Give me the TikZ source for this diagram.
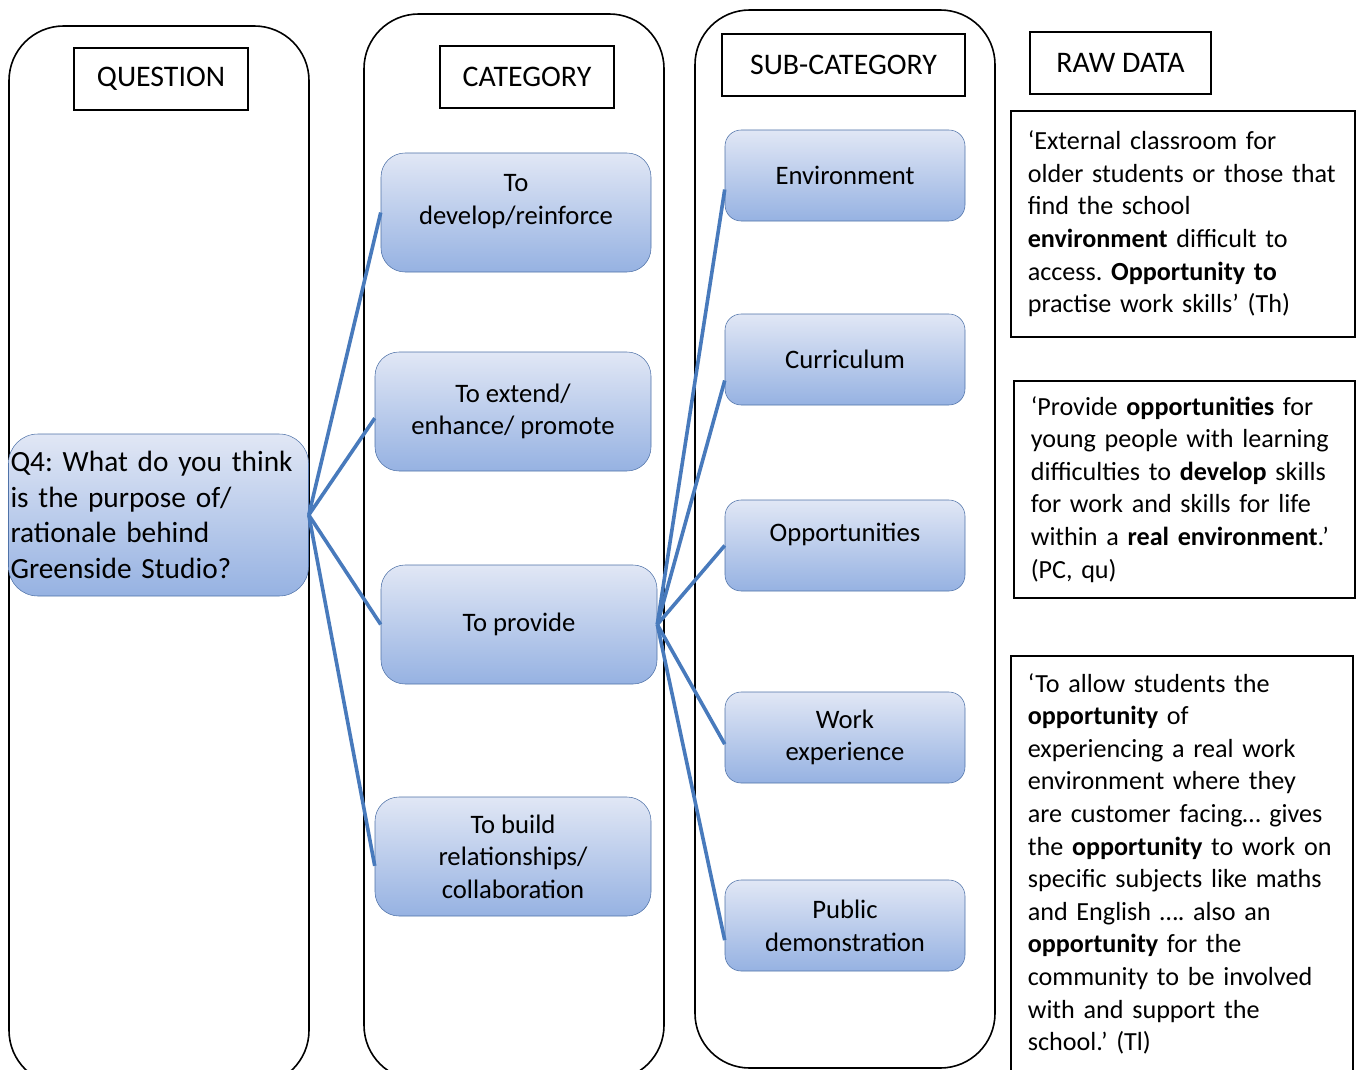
\documentclass[tikz,border=0pt]{standalone}
\usepackage{fontspec}
\setmainfont{Carlito}
\frenchspacing
\definecolor{linkblue}{RGB}{72,122,188}
\definecolor{boxtop}{RGB}{225,231,245}
\definecolor{boxbot}{RGB}{150,178,226}
\definecolor{boxline}{RGB}{79,114,168}
\begin{document}
\begin{tikzpicture}[x=0.75pt,y=-0.75pt]
\tikzstyle{col} = [black,line width=1.2pt,rounded corners=41pt]
\tikzstyle{head} = [draw,line width=1.2pt,font=\fontsize{22.4}{26}\selectfont,inner sep=0pt]
\tikzstyle{cat} = [draw=boxline,top color=boxtop,bottom color=boxbot,rounded corners=18pt,align=center,font=\fontsize{20}{24.5}\selectfont,minimum height=89.25pt,minimum width=207pt]
\tikzstyle{sub} = [cat,rounded corners=12pt,minimum width=180pt,minimum height=68.25pt]
\tikzstyle{raw} = [draw,line width=1.2pt,anchor=north west,align=left,font=\fontsize{19.6}{24.45}\selectfont,inner xsep=12.75pt]
\tikzstyle{link} = [linkblue,line width=2.7pt]

\useasboundingbox (0,0) rectangle (1359,1070);
\draw[col] (9,26) rectangle (309,1085);
\draw[col] (364,14) rectangle (664,1080);
\draw[col] (695,10) rectangle (995,1068);

\node[head,minimum width=130.5pt,minimum height=46.5pt] (question) at (161,79) {QUESTION};
\node[head,minimum width=130.5pt,minimum height=46.5pt] (category) at (527,77) {CATEGORY};
\node[head,minimum width=182.25pt,minimum height=46.5pt] (subcategory) at (843.5,65) {SUB-CATEGORY};
\node[head,minimum width=135.75pt,minimum height=46.5pt] (rawdata) at (1120.5,63) {RAW DATA};

\node[cat,align=left,text width=222pt,inner xsep=1.5pt,minimum height=121.5pt,rounded corners=22pt,font=\fontsize{22}{26.7}\selectfont] (q4) at (158.5,515) {Q4: What do you think\\is the purpose of/\\rationale behind\\Greenside Studio?};

\node[cat,minimum width=202.5pt,text depth=20pt] (dev) at (516,212.5) {To\\develop/reinforce};
\node[cat] (ext) at (513,411.5) {To extend/\\enhance/ promote};
\node[cat] (prov) at (519,624.5) {To provide};
\node[cat] (build) at (513,856.5) {To build\\relationships/\\collaboration};

\node[sub] (env) at (845,175.5) {Environment};
\node[sub] (cur) at (845,359.5) {Curriculum};
\node[sub,text depth=20pt] (opp) at (845,545.5) {Opportunities};
\node[sub] (work) at (845,737.5) {Work\\experience};
\node[sub] (pub) at (845,925.5) {Public\\demonstration};

\node[raw,text width=232.5pt,minimum height=169.5pt] (th) at (1010,110) {‘External classroom for\\older students or those that\\find the school\\\textbf{environment} difficult to\\access. \textbf{Opportunity to}\\practise work skills’ (Th)};
\node[raw,text width=230.25pt,minimum height=162.75pt] (pc) at (1013,380) {‘Provide \textbf{opportunities} for\\young people with learning\\difficulties to \textbf{develop} skills\\for work and skills for life\\within a \textbf{real environment}.’\\(PC, qu)};
\node[raw,text width=231pt,minimum height=312pt] (tl) at (1010,655) {‘To allow students the\\\textbf{opportunity} of\\experiencing a real work\\environment where they\\are customer facing… gives\\the \textbf{opportunity} to work on\\specific subjects like maths\\and English …. also an\\\textbf{opportunity} for the\\community to be involved\\with and support the\\school.’ (Tl)};

\draw[link] (q4.east) -- (dev.west);
\draw[link] (q4.east) -- ([yshift=-5pt]ext.west);
\draw[link] (q4.east) -- (prov.west);
\draw[link] (q4.east) -- ([yshift=-7pt]build.west);
\draw[link] (prov.east) -- ([yshift=-10.5pt]env.west);
\draw[link] (prov.east) -- ([yshift=-15.75pt]cur.west);
\draw[link] (prov.east) -- (opp.west);
\draw[link] (prov.east) -- ([yshift=-5pt]work.west);
\draw[link] (prov.east) -- ([yshift=-11pt]pub.west);
\end{tikzpicture}
\end{document}
